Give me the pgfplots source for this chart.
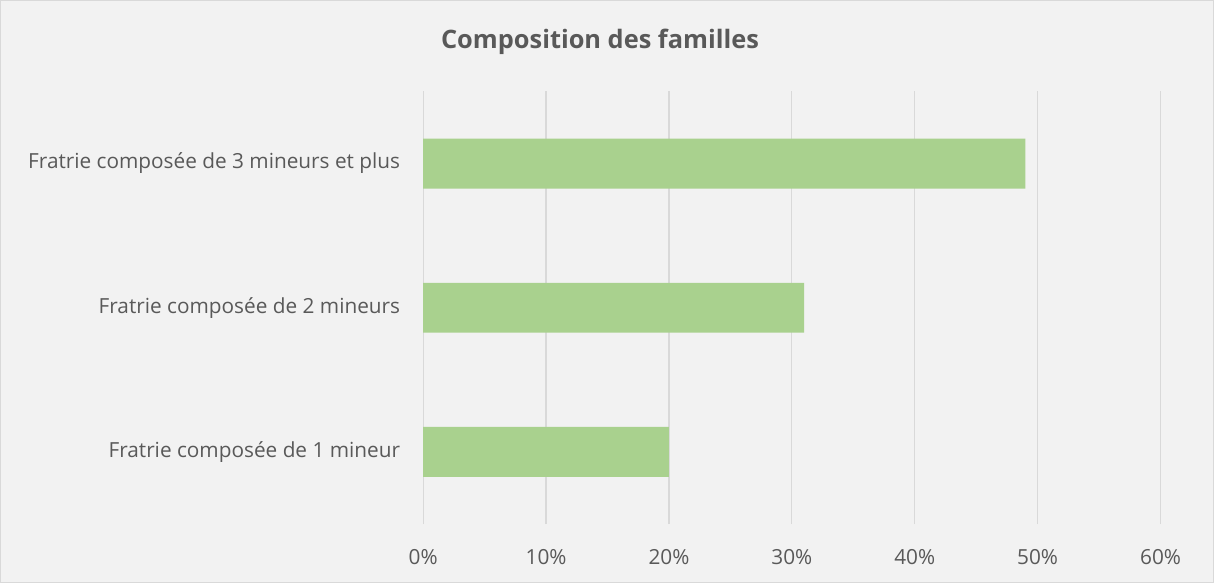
\documentclass[border=0pt]{standalone}
\usepackage{fontspec}
\setmainfont{Open Sans}
\usepackage{pgfplots}
\pgfplotsset{compat=1.18}
\usetikzlibrary{backgrounds,calc}

\definecolor{bgcol}{HTML}{F2F2F2}
\definecolor{framecol}{HTML}{D9D9D9}
\definecolor{gridcol}{HTML}{D9D9D9}
\definecolor{txtcol}{HTML}{595959}
\definecolor{barcol}{HTML}{A9D18E}

\begin{document}
\begin{tikzpicture}
  \begin{axis}[
    name=ax,
    scale only axis,
    width=369pt,
    height=216.5pt,
    xbar,
    bar width=25pt,
    xmin=0, xmax=60,
    ymin=-0.5, ymax=2.5,
    xtick={0,10,...,60},
    xticklabel={\pgfmathprintnumber{\tick}\%},
    ytick={0,1,2},
    yticklabels={Fratrie composée de 1 mineur,
                 Fratrie composée de 2 mineurs,
                 Fratrie composée de 3 mineurs et plus},
    /pgf/number format/assume math mode=true,
    xmajorgrids,
    grid style={draw=gridcol, line width=0.6pt},
    axis line style={draw=none},
    major tick length=0pt,
    ticklabel style={font=\fontsize{10.4}{12.5}\selectfont, text=txtcol},
    xticklabel style={yshift=-9pt},
    yticklabel style={xshift=-8pt},
  ]
    \addplot[fill=barcol, draw=none] coordinates {
      (20,0)
      (31,1)
      (49,2)
    };
  \end{axis}

  \node[anchor=base, text=txtcol, font=\bfseries\fontsize{12.7}{15}\selectfont]
    at ($(ax.north west)+(88.5pt,21.5pt)$) {Composition des familles};

  \begin{scope}[on background layer]
    \filldraw[fill=bgcol, draw=framecol, line width=0.5pt]
      ($(ax.south west)+(-211.5pt,-29pt)$) rectangle ($(ax.north east)+(26.5pt,45.5pt)$);
  \end{scope}
\end{tikzpicture}
\end{document}
